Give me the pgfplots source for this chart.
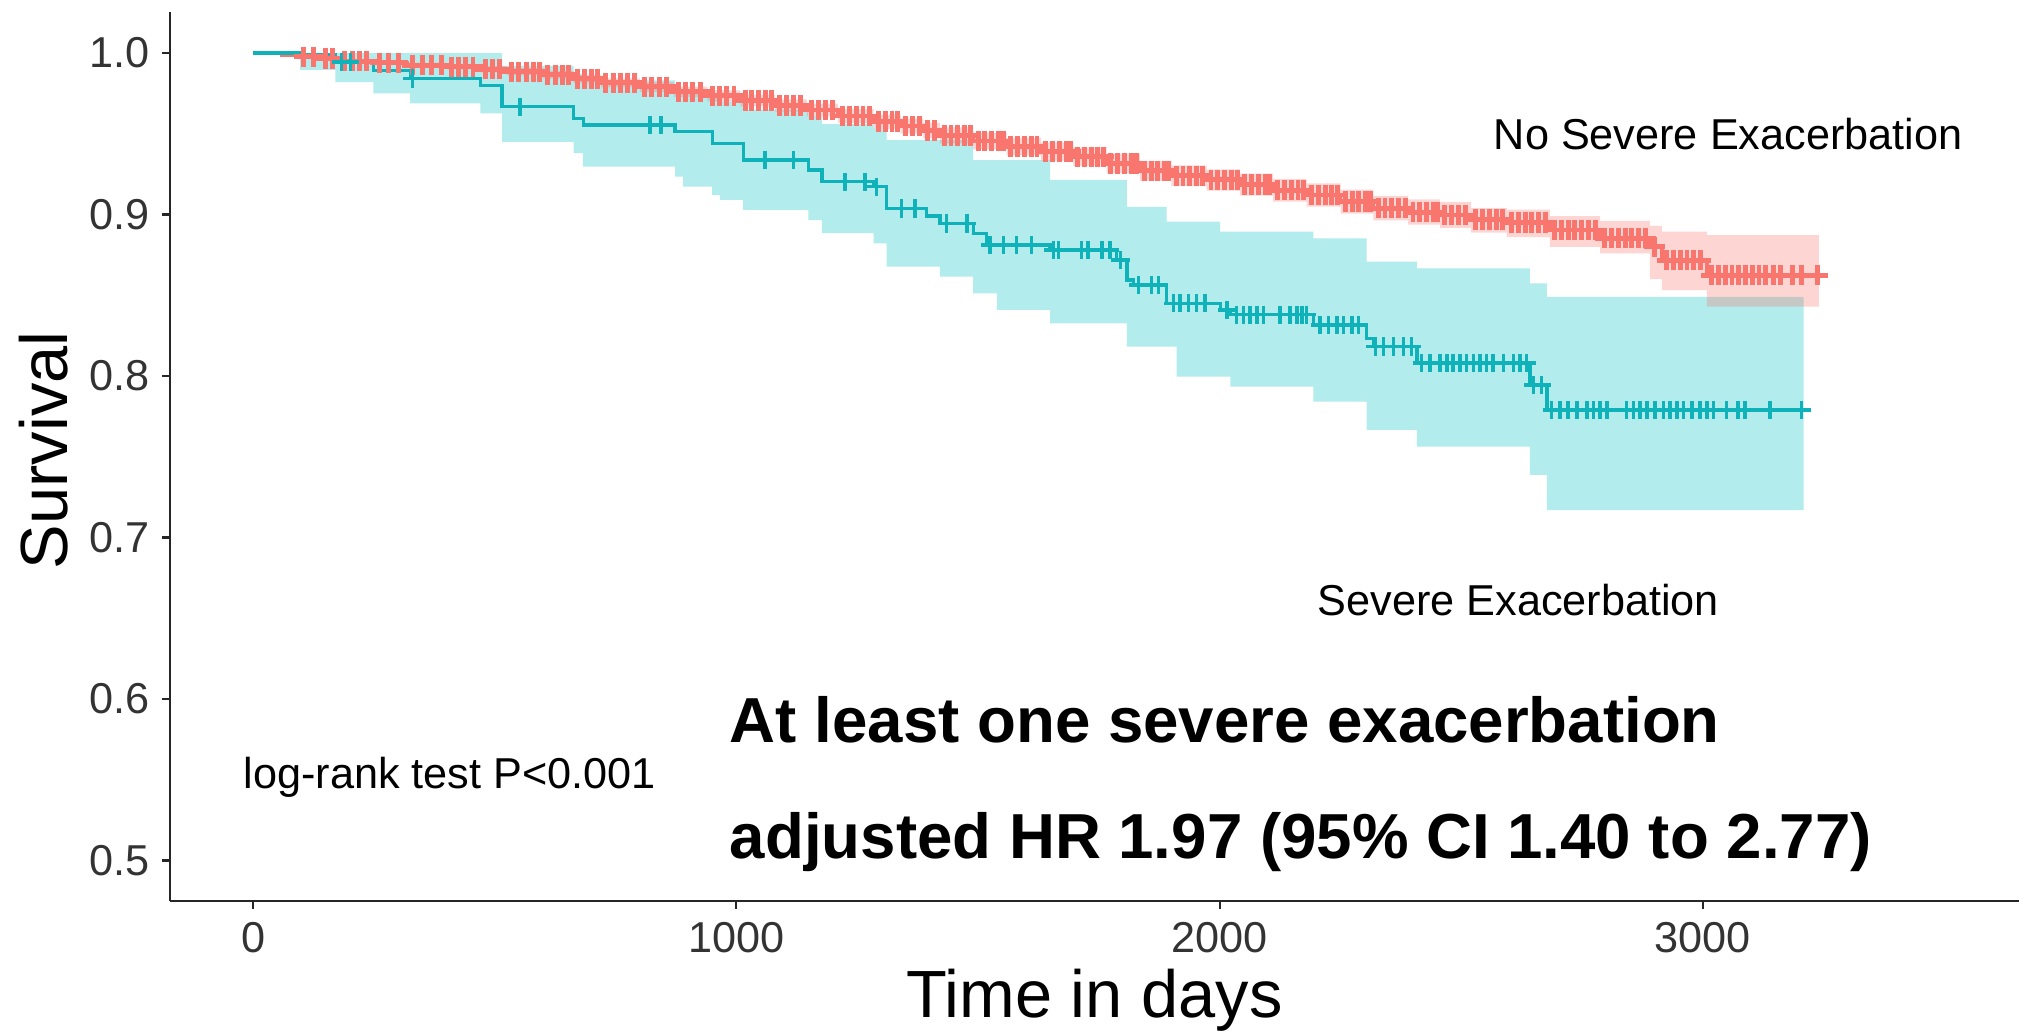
\documentclass[border=0pt]{standalone}
\usepackage{fontspec}
\setmainfont{Liberation Sans}
\usepackage{pgfplots}
\pgfplotsset{compat=1.18}
\usepackage{pgfplotstable}
\usepgfplotslibrary{fillbetween}

\definecolor{kmred}{HTML}{F8766D}
\definecolor{kmteal}{HTML}{00BFC4}
\definecolor{kmtealline}{HTML}{0FB2B8}

% Kaplan-Meier estimate with 95% band: no severe exacerbation
\pgfplotstableread{
t     s       lo      hi
0     1.0000  1.0000  1.0000
60    0.9990  0.9985  0.9995
97    0.9977  0.9968  0.9986
140   0.9965  0.9955  0.9975
180   0.9950  0.9938  0.9962
250   0.9940  0.9926  0.9954
318   0.9925  0.9910  0.9940
400   0.9915  0.9898  0.9932
470   0.9900  0.9880  0.9920
525   0.9884  0.9862  0.9906
600   0.9865  0.9841  0.9889
663   0.9840  0.9814  0.9866
720   0.9815  0.9787  0.9843
800   0.9790  0.9760  0.9820
870   0.9760  0.9728  0.9792
940   0.9735  0.9701  0.9769
1008  0.9705  0.9669  0.9741
1080  0.9675  0.9637  0.9713
1146  0.9647  0.9607  0.9687
1210  0.9610  0.9568  0.9652
1284  0.9575  0.9531  0.9619
1340  0.9548  0.9502  0.9594
1387  0.9520  0.9472  0.9568
1421  0.9490  0.9440  0.9540
1490  0.9455  0.9403  0.9507
1559  0.9420  0.9366  0.9474
1630  0.9390  0.9334  0.9446
1697  0.9358  0.9300  0.9416
1766  0.9317  0.9257  0.9377
1835  0.9270  0.9208  0.9332
1900  0.9240  0.9176  0.9304
1973  0.9214  0.9148  0.9280
2042  0.9185  0.9117  0.9253
2110  0.9150  0.9080  0.9220
2180  0.9121  0.9049  0.9193
2250  0.9080  0.9006  0.9154
2318  0.9040  0.8964  0.9116
2390  0.9015  0.8937  0.9093
2456  0.8997  0.8917  0.9077
2520  0.8970  0.8888  0.9040
2594  0.8950  0.8860  0.9030
2683  0.8904  0.8800  0.8990
2787  0.8853  0.8760  0.8960
2890  0.8800  0.8600  0.8930
2915  0.8718  0.8532  0.8894
3008  0.8625  0.8430  0.8873
3240  0.8625  0.8430  0.8873
}\redtab

% Kaplan-Meier estimate with 95% band: severe exacerbation
\pgfplotstableread{
t     s       lo      hi
0     1.0000  1.0000  1.0000
97    0.9988  0.9895  1.0000
170   0.9946  0.9820  1.0000
249   0.9890  0.9750  1.0000
325   0.9843  0.9689  1.0000
470   0.9800  0.9627  1.0000
515   0.9668  0.9450  0.9920
663   0.9596  0.9380  0.9870
683   0.9554  0.9296  0.9830
873   0.9515  0.9234  0.9770
890   0.9515  0.9172  0.9770
950   0.9440  0.9120  0.9730
966   0.9440  0.9090  0.9700
1014  0.9337  0.9028  0.9650
1149  0.9276  0.8966  0.9610
1177  0.9203  0.8884  0.9560
1284  0.9172  0.8822  0.9530
1311  0.9038  0.8677  0.9460
1394  0.8990  0.8677  0.9460
1421  0.8945  0.8615  0.9460
1490  0.8883  0.8512  0.9337
1518  0.8811  0.8512  0.9337
1539  0.8811  0.8409  0.9337
1649  0.8780  0.8326  0.9214
1787  0.8718  0.8326  0.9214
1808  0.8594  0.8182  0.9048
1821  0.8563  0.8182  0.9048
1890  0.8450  0.8182  0.8956
1911  0.8450  0.7996  0.8956
2001  0.8409  0.7996  0.8894
2022  0.8380  0.7934  0.8894
2194  0.8316  0.7841  0.8853
2304  0.8233  0.7666  0.8708
2318  0.8182  0.7666  0.8708
2408  0.8079  0.7562  0.8667
2642  0.7944  0.7387  0.8574
2677  0.7790  0.7170  0.8490
3208  0.7790  0.7170  0.8490
}\tealtab

% censored observations, no severe exacerbation
\pgfplotstableread{
t s
105 0.9977
125 0.9977
150 0.9965
165 0.9965
190 0.9950
205 0.9950
220 0.9950
235 0.9950
262 0.9940
280 0.9940
300 0.9940
330 0.9925
350 0.9925
370 0.9925
390 0.9925
410 0.9915
425 0.9915
440 0.9915
455 0.9915
480 0.9900
495 0.9900
510 0.9900
535 0.9884
550 0.9884
565 0.9884
580 0.9884
592 0.9884
610 0.9865
625 0.9865
640 0.9865
652 0.9865
672 0.9840
686 0.9840
700 0.9840
712 0.9840
730 0.9815
745 0.9815
760 0.9815
775 0.9815
790 0.9815
810 0.9790
825 0.9790
840 0.9790
855 0.9790
880 0.9760
895 0.9760
910 0.9760
925 0.9760
950 0.9735
965 0.9735
980 0.9735
995 0.9735
1018 0.9705
1032 0.9705
1046 0.9705
1060 0.9705
1072 0.9705
1090 0.9675
1104 0.9675
1118 0.9675
1132 0.9675
1156 0.9647
1170 0.9647
1184 0.9647
1198 0.9647
1220 0.9610
1234 0.9610
1248 0.9610
1262 0.9610
1275 0.9610
1294 0.9575
1308 0.9575
1322 0.9575
1333 0.9575
1350 0.9548
1364 0.9548
1378 0.9548
1396 0.9520
1410 0.9520
1430 0.9490
1444 0.9490
1458 0.9490
1472 0.9490
1484 0.9490
1500 0.9455
1514 0.9455
1528 0.9455
1542 0.9455
1552 0.9455
1568 0.9420
1582 0.9420
1596 0.9420
1610 0.9420
1622 0.9420
1640 0.9390
1654 0.9390
1668 0.9390
1682 0.9390
1692 0.9390
1706 0.9358
1720 0.9358
1734 0.9358
1748 0.9358
1760 0.9358
1775 0.9317
1789 0.9317
1803 0.9317
1817 0.9317
1828 0.9317
1844 0.9270
1858 0.9270
1872 0.9270
1886 0.9270
1895 0.9270
1910 0.9240
1924 0.9240
1938 0.9240
1952 0.9240
1965 0.9240
1982 0.9214
1996 0.9214
2010 0.9214
2024 0.9214
2036 0.9214
2052 0.9185
2066 0.9185
2080 0.9185
2094 0.9185
2104 0.9185
2120 0.9150
2134 0.9150
2148 0.9150
2162 0.9150
2174 0.9150
2190 0.9121
2204 0.9121
2218 0.9121
2232 0.9121
2244 0.9121
2260 0.9080
2274 0.9080
2288 0.9080
2302 0.9080
2312 0.9080
2328 0.9040
2342 0.9040
2356 0.9040
2370 0.9040
2384 0.9040
2400 0.9015
2414 0.9015
2428 0.9015
2442 0.9015
2450 0.9015
2466 0.8997
2480 0.8997
2494 0.8997
2508 0.8997
2530 0.8970
2544 0.8970
2558 0.8970
2572 0.8970
2586 0.8970
2604 0.8950
2618 0.8950
2632 0.8950
2646 0.8950
2660 0.8950
2674 0.8950
2693 0.8904
2707 0.8904
2721 0.8904
2735 0.8904
2749 0.8904
2763 0.8904
2777 0.8904
2797 0.8853
2811 0.8853
2825 0.8853
2839 0.8853
2853 0.8853
2867 0.8853
2881 0.8853
2900 0.8800
2925 0.8718
2939 0.8718
2953 0.8718
2967 0.8718
2981 0.8718
2995 0.8718
3018 0.8625
3032 0.8625
3046 0.8625
3060 0.8625
3074 0.8625
3088 0.8625
3102 0.8625
3116 0.8625
3130 0.8625
3145 0.8625
3160 0.8625
3186 0.8625
3204 0.8625
3237 0.8625
}\redcens

% censored observations, severe exacerbation
\pgfplotstableread{
t s
183 0.9946
201 0.9946
330 0.9843
552 0.9668
821 0.9554
844 0.9554
1059 0.9337
1118 0.9337
1225 0.9203
1266 0.9203
1290 0.9172
1342 0.9038
1370 0.9038
1435 0.8945
1477 0.8945
1525 0.8811
1553 0.8811
1580 0.8811
1611 0.8811
1656 0.8780
1666 0.8780
1714 0.8780
1728 0.8780
1756 0.8780
1773 0.8780
1795 0.8718
1832 0.8563
1859 0.8563
1873 0.8563
1904 0.8450
1918 0.8450
1935 0.8450
1952 0.8450
1970 0.8450
2015 0.8409
2035 0.8380
2049 0.8380
2063 0.8380
2077 0.8380
2091 0.8380
2125 0.8380
2146 0.8380
2160 0.8380
2170 0.8380
2180 0.8380
2208 0.8316
2225 0.8316
2243 0.8316
2256 0.8316
2274 0.8316
2287 0.8316
2322 0.8182
2339 0.8182
2360 0.8182
2380 0.8182
2397 0.8182
2418 0.8079
2435 0.8079
2456 0.8079
2470 0.8079
2483 0.8079
2497 0.8079
2511 0.8079
2525 0.8079
2539 0.8079
2552 0.8079
2566 0.8079
2587 0.8079
2608 0.8079
2621 0.8079
2635 0.8079
2649 0.7944
2666 0.7944
2687 0.7790
2704 0.7790
2721 0.7790
2739 0.7790
2760 0.7790
2773 0.7790
2787 0.7790
2801 0.7790
2842 0.7790
2856 0.7790
2870 0.7790
2884 0.7790
2901 0.7790
2918 0.7790
2932 0.7790
2946 0.7790
2960 0.7790
2977 0.7790
2994 0.7790
3008 0.7790
3022 0.7790
3049 0.7790
3073 0.7790
3087 0.7790
3139 0.7790
3204 0.7790
}\tealcens

\begin{document}
\begin{tikzpicture}
\begin{axis}[
  scale only axis,
  width=18.49cm, height=8.89cm,
  xmin=-172, xmax=3654,
  ymin=0.4749, ymax=1.0254,
  axis x line*=bottom, axis y line*=left,
  axis line style={line width=0.6pt, black!85},
  xtick={0,1000,2000,3000},
  ytick={0.5,0.6,0.7,0.8,0.9,1.0},
  scaled x ticks=false,
  /pgf/number format/assume math mode=true,
  /pgf/number format/1000 sep={},
  yticklabel style={/pgf/number format/.cd, fixed, fixed zerofill, precision=1},
  tick align=outside,
  major tick length=0.08cm,
  tick style={line width=0.6pt, black!85},
  tick label style={font=\fontsize{12.3}{14}\selectfont, text=black!80, inner sep=0pt},
  yticklabel shift=0.12cm,
  xticklabel shift=0.13cm,
  xlabel={Time in days},
  ylabel={Survival},
  xlabel style={font=\fontsize{19}{22}\selectfont, at={(axis description cs:0.5,0)}, anchor=base, yshift=-1.16cm, inner sep=0pt},
  ylabel style={font=\fontsize{19}{22}\selectfont, at={([xshift=-1.02cm]axis description cs:0,0.507)}, anchor=base, inner sep=0pt},
  clip=true,
]
% confidence bands
\addplot[draw=none, const plot, name path=tealhi, forget plot] table[x=t, y=hi] {\tealtab};
\addplot[draw=none, const plot, name path=teallo, forget plot] table[x=t, y=lo] {\tealtab};
\addplot[kmteal, fill opacity=0.3, draw=none, forget plot] fill between[of=tealhi and teallo];
\addplot[draw=none, const plot, name path=redhi, forget plot] table[x=t, y=hi] {\redtab};
\addplot[draw=none, const plot, name path=redlo, forget plot] table[x=t, y=lo] {\redtab};
\addplot[kmred, fill opacity=0.3, draw=none, forget plot] fill between[of=redhi and redlo];

% survival curves with censoring marks
\addplot[const plot, kmred, line width=1.1pt] table[x=t, y=s] {\redtab};
\addplot[only marks, mark=+, mark size=2.9pt, kmred, mark options={line width=1.4pt}] table[x=t, y=s] {\redcens};
\addplot[const plot, kmtealline, line width=0.95pt] table[x=t, y=s] {\tealtab};
\addplot[only marks, mark=+, mark size=2.6pt, kmtealline, mark options={line width=1pt}] table[x=t, y=s] {\tealcens};

% annotations
\node[anchor=base, inner sep=0pt, font=\fontsize{12.3}{14}\selectfont] at (axis cs:3052,0.9403) {No Severe Exacerbation};
\node[anchor=base, inner sep=0pt, font=\fontsize{12.3}{14}\selectfont] at (axis cs:2618,0.6520) {Severe Exacerbation};
\node[anchor=base, inner sep=0pt, font=\fontsize{12.3}{14}\selectfont] at (axis cs:407,0.5443) {log-rank test P<0.001};
\node[anchor=base west, inner sep=0pt, font=\bfseries\fontsize{18.1}{21}\selectfont] at (axis cs:985,0.5728) {At least one severe exacerbation};
\node[anchor=base west, inner sep=0pt, font=\bfseries\fontsize{18.1}{21}\selectfont] at (axis cs:985,0.5015) {adjusted HR 1.97 (95\% CI 1.40 to 2.77)};
\end{axis}
\pgfresetboundingbox
\useasboundingbox (-1.70cm,-1.32cm) rectangle (18.49cm,9.01cm);
\end{tikzpicture}
\end{document}
